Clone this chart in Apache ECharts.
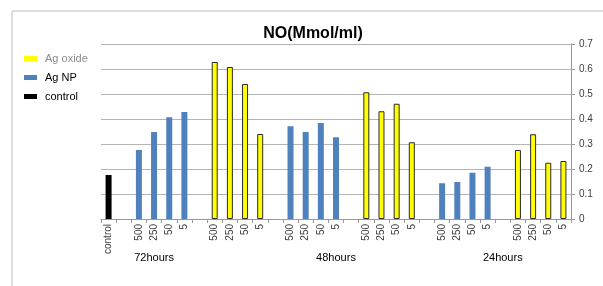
<!DOCTYPE html>
<html>
<head>
<meta charset="utf-8">
<script src="https://cdn.jsdelivr.net/npm/echarts@6/dist/echarts.min.js"></script>
<style>
  html, body { margin: 0; padding: 0; background: #fff; }
  #chart { width: 603px; height: 286px; }
</style>
</head>
<body>
<div id="chart"></div>
<script>
// tick labels on the x axis (empty strings are the gaps between groups)
const categories = ['control', '',
  '500', '250', '50', '5', '',
  '500', '250', '50', '5', '',
  '500', '250', '50', '5', '',
  '500', '250', '50', '5', '',
  '500', '250', '50', '5', '',
  '500', '250', '50', '5'];
// second row of labels
const groupLabels = ['', '', '', '72hours', '', '', '', '', '', '', '', '', '', '', '', '48hours', '',
  '', '', '', '', '', '', '', '', '', '24hours', '', '', '', ''];

const controlValue = 0.176;
const agNP72 = [0.276, 0.348, 0.407, 0.428];
const agOxide72 = [0.628, 0.608, 0.540, 0.340];
const agNP48 = [0.371, 0.348, 0.384, 0.327];
const agOxide48 = [0.507, 0.431, 0.461, 0.307];
const agNP24 = [0.143, 0.148, 0.185, 0.209];
const agOxide24 = [0.276, 0.339, 0.225, 0.232];

const yTicks = { min: 0, max: 0.7, interval: 0.1 };

// lay the values onto the 31 slots
const empty = () => categories.map(() => '-');
const controlData = empty();
controlData[0] = controlValue;
const npData = empty();
const oxData = empty();
[[2, agNP72], [12, agNP48], [22, agNP24]].forEach(([start, arr]) => {
  arr.forEach((v, i) => { npData[start + i] = v; });
});
[[7, agOxide72], [17, agOxide48], [27, agOxide24]].forEach(([start, arr]) => {
  arr.forEach((v, i) => { oxData[start + i] = v; });
});

const chart = echarts.init(document.getElementById('chart'));
const labelColor = '#404040';

chart.setOption({
  animation: false,
  textStyle: { fontFamily: 'Liberation Sans, Arial, sans-serif' },
  title: {
    text: 'NO(Mmol/ml)',
    left: 308,
    top: 21,
    textAlign: 'center',
    textStyle: { fontSize: 16, fontWeight: 'bold', color: '#000' }
  },
  graphic: [{
    type: 'rect',
    shape: { x: 12, y: 11, width: 620, height: 300 },
    style: { fill: 'none', stroke: '#bdbdbd', lineWidth: 1 },
    silent: true,
    z: -1
  }],
  legend: {
    orient: 'vertical',
    left: 19,
    top: 48,
    itemWidth: 13,
    itemHeight: 5,
    itemGap: 8,
    icon: 'rect',
    textStyle: { fontSize: 11, color: '#000', padding: [0, 0, 0, 3] },
    data: [
      { name: 'Ag oxide', textStyle: { color: '#8c8c8c' }, itemStyle: { borderWidth: 0 } },
      { name: 'Ag NP' },
      { name: 'control' }
    ]
  },
  grid: { left: 101, right: 32, top: 44, bottom: 67 },
  xAxis: [{
    type: 'category',
    data: categories,
    position: 'bottom',
    axisLine: { lineStyle: { color: '#9a9a9a' } },
    axisTick: { show: true, interval: 0, length: 4, lineStyle: { color: '#9a9a9a' } },
    axisLabel: { interval: 0, rotate: 90, fontSize: 10, color: labelColor, margin: 5 }
  }, {
    type: 'category',
    data: groupLabels,
    position: 'bottom',
    axisLine: { show: false },
    axisTick: { show: false },
    axisLabel: { interval: 0, fontSize: 11, color: '#000', margin: 33 }
  }],
  yAxis: {
    type: 'value',
    position: 'right',
    min: yTicks.min,
    max: yTicks.max,
    interval: yTicks.interval,
    axisLine: { show: true, lineStyle: { color: '#9a9a9a' } },
    axisTick: { show: true, length: 4, lineStyle: { color: '#9a9a9a' } },
    axisLabel: { fontSize: 10, color: labelColor, margin: 8 },
    splitLine: { lineStyle: { color: '#b4b4b4' } }
  },
  series: [{
    name: 'Ag oxide',
    type: 'bar',
    stack: 'all',
    barWidth: 6,
    data: oxData,
    itemStyle: { color: '#ffff00', borderColor: '#2b2b2b', borderWidth: 1 }
  }, {
    name: 'Ag NP',
    type: 'bar',
    stack: 'all',
    barWidth: 6,
    data: npData,
    itemStyle: { color: '#4f81bd' }
  }, {
    name: 'control',
    type: 'bar',
    stack: 'all',
    barWidth: 8,
    data: controlData,
    itemStyle: { color: '#000' }
  }]
});
</script>
</body>
</html>
